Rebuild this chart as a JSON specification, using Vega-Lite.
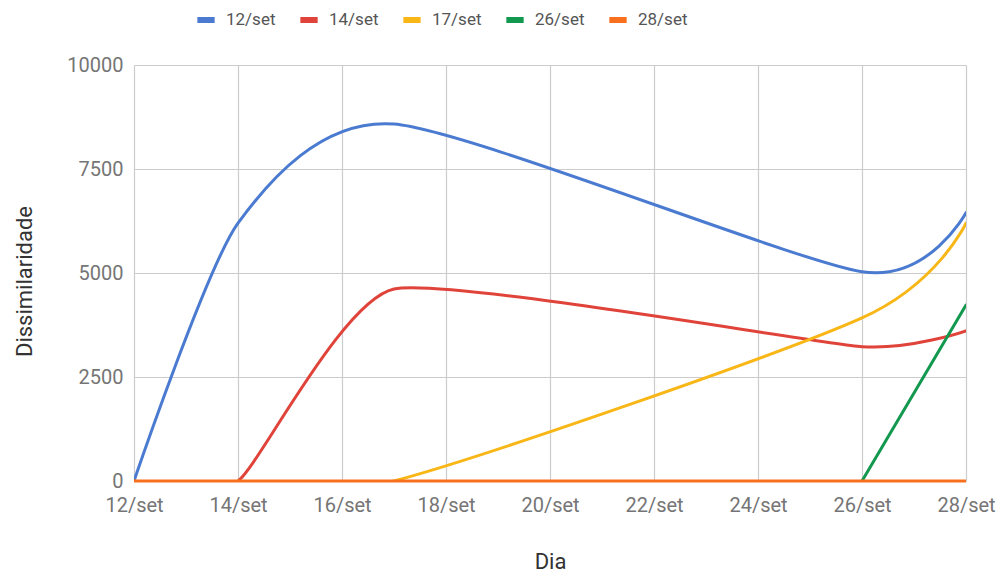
{
  "$schema": "https://vega.github.io/schema/vega-lite/v6.json",
  "width": 832,
  "height": 416,
  "autosize": "none",
  "padding": {"left": 134, "top": 65, "right": 39, "bottom": 95},
  "background": "white",
  "config": {
    "font": "Roboto",
    "view": {"stroke": null}
  },
  "data": {
    "values": [
      {"dia": 12, "serie": "12/set", "valor": 0},
      {"dia": 14, "serie": "12/set", "valor": 6200},
      {"dia": 17, "serie": "12/set", "valor": 8580},
      {"dia": 26, "serie": "12/set", "valor": 5030},
      {"dia": 28, "serie": "12/set", "valor": 6450},
      {"dia": 12, "serie": "14/set", "valor": 0},
      {"dia": 14, "serie": "14/set", "valor": 0},
      {"dia": 17, "serie": "14/set", "valor": 4615},
      {"dia": 26, "serie": "14/set", "valor": 3230},
      {"dia": 28, "serie": "14/set", "valor": 3610},
      {"dia": 14, "serie": "17/set", "valor": 0},
      {"dia": 17, "serie": "17/set", "valor": 0},
      {"dia": 26, "serie": "17/set", "valor": 3920},
      {"dia": 28, "serie": "17/set", "valor": 6200},
      {"dia": 26, "serie": "26/set", "valor": 0},
      {"dia": 28, "serie": "26/set", "valor": 4230},
      {"dia": 12, "serie": "28/set", "valor": 0},
      {"dia": 14, "serie": "28/set", "valor": 0},
      {"dia": 17, "serie": "28/set", "valor": 0},
      {"dia": 26, "serie": "28/set", "valor": 0},
      {"dia": 28, "serie": "28/set", "valor": 0}
    ]
  },
  "encoding": {
    "x": {
      "field": "dia",
      "type": "quantitative",
      "scale": {"domain": [12, 28], "nice": false, "zero": false},
      "axis": {
        "values": [12, 14, 16, 18, 20, 22, 24, 26, 28],
        "labelExpr": "datum.value + '/set'",
        "title": "Dia",
        "titleFont": "Roboto",
        "titleFontSize": 22,
        "titleFontWeight": "normal",
        "titleColor": "#333333",
        "titlePadding": 36,
        "labelFontSize": 20,
        "labelColor": "#757575",
        "labelPadding": 14,
        "labelFlush": false,
        "labelOverlap": false,
        "ticks": false,
        "domain": false,
        "grid": true,
        "gridColor": "#cccccc",
        "gridWidth": 1.2
      }
    },
    "y": {
      "field": "valor",
      "type": "quantitative",
      "scale": {"domain": [0, 10000], "nice": false},
      "axis": {
        "values": [0, 2500, 5000, 7500, 10000],
        "format": "d",
        "title": "Dissimilaridade",
        "titleFont": "Roboto",
        "titleFontSize": 22,
        "titleFontWeight": "normal",
        "titleColor": "#333333",
        "titlePadding": 30,
        "titleY": 216,
        "labelFontSize": 20,
        "labelColor": "#757575",
        "labelPadding": 11,
        "ticks": false,
        "domain": false,
        "grid": true,
        "gridColor": "#cccccc",
        "gridWidth": 1.2
      }
    },
    "color": {
      "field": "serie",
      "type": "nominal",
      "sort": ["12/set", "14/set", "17/set", "26/set", "28/set"],
      "scale": {
        "domain": ["12/set", "14/set", "17/set", "26/set", "28/set"],
        "range": ["#4a7bd0", "#e0433a", "#f8b617", "#12984f", "#f8701e"]
      },
      "legend": {
        "title": null,
        "orient": "none",
        "legendX": 60,
        "legendY": -57,
        "direction": "horizontal",
        "symbolType": "stroke",
        "symbolSize": 300,
        "symbolStrokeWidth": 6,
        "labelFont": "Roboto",
        "labelFontSize": 17,
        "labelColor": "#555555",
        "labelOffset": 8,
        "columnPadding": 12
      }
    }
  },
  "layer": [
    {
      "transform": [{"filter": "datum.serie === '12/set'"}],
      "mark": {"type": "line", "interpolate": "cardinal", "tension": 0.3, "strokeWidth": 3, "strokeCap": "round", "clip": true}
    },
    {
      "transform": [{"filter": "datum.serie === '14/set'"}],
      "mark": {"type": "line", "interpolate": "cardinal", "tension": 0.5, "strokeWidth": 3, "strokeCap": "round", "clip": true}
    },
    {
      "transform": [{"filter": "datum.serie === '17/set'"}],
      "mark": {"type": "line", "interpolate": "cardinal", "tension": 0.2, "strokeWidth": 3, "strokeCap": "round", "clip": true}
    },
    {
      "transform": [{"filter": "datum.serie === '26/set'"}],
      "mark": {"type": "line", "interpolate": "linear", "strokeWidth": 3, "strokeCap": "round", "clip": true}
    },
    {
      "transform": [{"filter": "datum.serie === '28/set'"}],
      "mark": {"type": "line", "interpolate": "linear", "strokeWidth": 3, "strokeCap": "butt", "clip": false}
    }
  ]
}
